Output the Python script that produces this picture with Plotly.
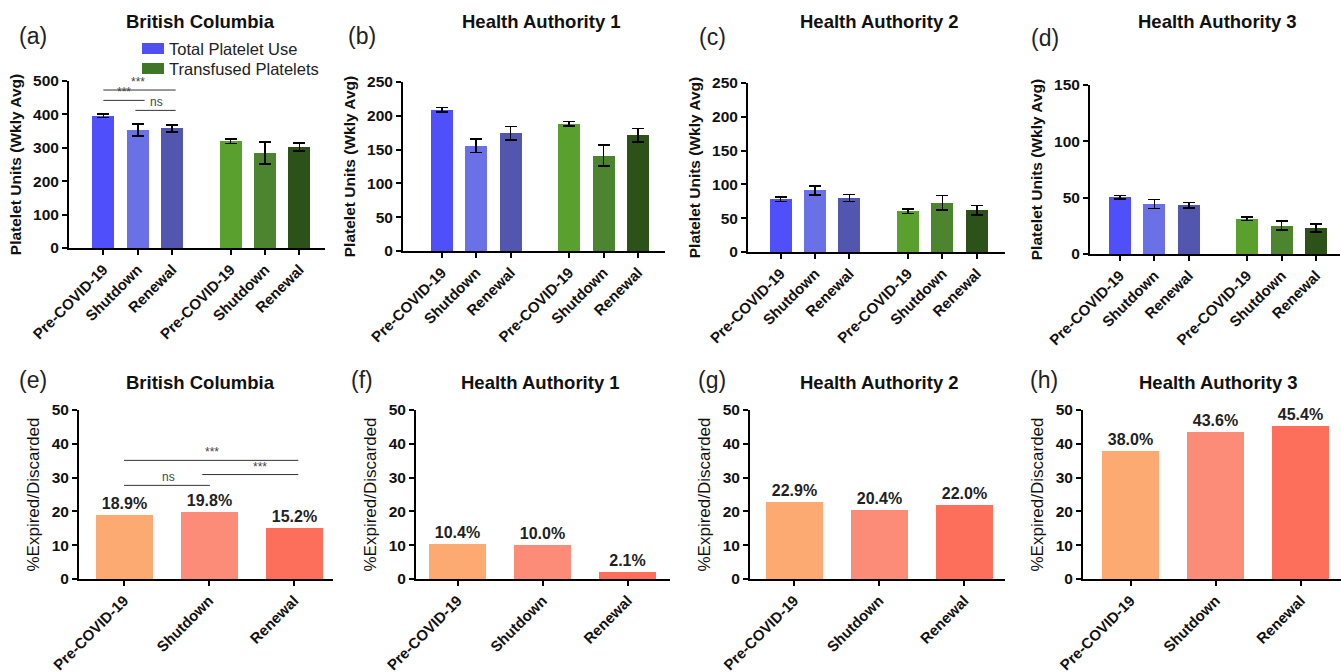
import plotly.graph_objects as go

W, H = 1341, 672
FONT = "Liberation Sans, Arial, sans-serif"

# ---------------- data ----------------
periods = ["Pre-COVID-19", "Shutdown", "Renewal"]
series_names = ["Total Platelet Use", "Transfused Platelets"]

top_titles = ["British Columbia", "Health Authority 1", "Health Authority 2", "Health Authority 3"]
top_letters = ["(a)", "(b)", "(c)", "(d)"]
total_use = [[396, 354, 358], [209, 156, 174], [78, 91, 80], [50.5, 44.5, 43.2]]
total_err = [[5, 18, 11], [3, 10, 10], [3, 7, 5], [1.5, 4, 2.4]]
transfused = [[320, 284, 303], [188, 141, 171], [60, 73, 62], [31.5, 25.3, 23]]
transfused_err = [[7, 33, 12], [3.5, 15.5, 10], [3.2, 10.6, 7], [1.6, 4, 3.7]]
top_ymax = [500, 250, 250, 150]
top_dtick = [100, 50, 50, 50]

bottom_titles = ["British Columbia", "Health Authority 1", "Health Authority 2", "Health Authority 3"]
bottom_letters = ["(e)", "(f)", "(g)", "(h)"]
expired_pct = [[18.9, 19.8, 15.2], [10.4, 10.0, 2.1], [22.9, 20.4, 22.0], [38.0, 43.6, 45.4]]

# significance brackets: (x0, x1, y, label, label_x)
sig_a = [(0, 2.1, 473, "***", 1.0), (0, 1.2, 442, "***", 0.6), (0.93, 2.1, 412, "ns", 1.55)]
sig_e = [(0, 2.05, 35.1, "***", 1.03), (0.92, 2.05, 30.9, "***", 1.6), (0, 1.01, 27.7, "ns", 0.52)]

# ---------------- styles ----------------
total_colors = ["#5050FB", "#6A70E6", "#5256AE"]
transf_colors = ["#5AA02F", "#4C8430", "#2C5119"]
legend_colors = ["#5050F2", "#3E7526"]
exp_colors = ["#FDA972", "#FC8C77", "#FD6E5B"]

GAP = 1.7  # group gap between the two series on top panels
# layout geometry in pixels
top_x_px = [(69, 325), (403, 665), (748, 1005), (1090, 1340)]
top_y_px = [(81, 248), (82, 251), (83, 252), (85, 254)]
top_xlo = [-1.0, -1.13, -0.95, -0.87]
bot_x_px = [(79, 333), (416, 670), (750, 1005), (1083, 1341)]
bot_y_px = (410, 579)
bot_xlo = [-0.53, -0.49, -0.52, -0.56]
top_title_px = [201, 541, 879, 1217]
bot_title_px = [201, 540, 879, 1218]
top_letter_px = [(33, 36), (362, 36), (712, 37), (1045, 38)]
bot_letter_px = [(33, 380), (362, 380), (712, 380), (1044, 380)]
legend_swatch_px = [(142, 43, 164, 54), (142, 63, 164, 74)]
legend_text_px = [(167, 48.5), (167, 68.5)]


def xd(p):
    return [p[0] / W, p[1] / W]


def yd(p):
    return [1 - p[1] / H, 1 - p[0] / H]


fig = go.Figure()
layout = dict(
    width=W, height=H, margin=dict(l=0, r=0, t=0, b=0, autoexpand=False),
    plot_bgcolor="white", paper_bgcolor="white",
    font=dict(family=FONT, color="#111"),
    bargap=0, showlegend=False,
)
annotations = []
shapes = []

n = len(periods)
xpos_total = list(range(n))
xpos_transf = [i + n - 1 + GAP for i in range(n)]
xpos_all = xpos_total + xpos_transf

axis_common = dict(showline=True, linecolor="black", linewidth=2, ticks="outside",
                   ticklen=5, tickwidth=2, tickcolor="black", showgrid=False,
                   zeroline=False, mirror=False, automargin=False)

XTICK = dict(size=15, weight="bold", color="#111")
YTICK = dict(size=15.5, weight="bold", color="#111")

for k in range(4):
    ax = k + 1
    xa = "x" if ax == 1 else f"x{ax}"
    ya = "y" if ax == 1 else f"y{ax}"
    fig.add_trace(go.Bar(x=xpos_total, y=total_use[k], width=0.64, name=series_names[0],
                         marker=dict(color=total_colors, line=dict(width=0)),
                         error_y=dict(type="data", array=total_err[k], color="black",
                                      thickness=1.6, width=6),
                         xaxis=xa, yaxis=ya))
    fig.add_trace(go.Bar(x=xpos_transf, y=transfused[k], width=0.64, name=series_names[1],
                         marker=dict(color=transf_colors, line=dict(width=0)),
                         error_y=dict(type="data", array=transfused_err[k], color="black",
                                      thickness=1.6, width=6),
                         xaxis=xa, yaxis=ya))
    layout[f"xaxis{ax}"] = dict(
        domain=xd(top_x_px[k]), range=[top_xlo[k], top_xlo[k] + (top_x_px[k][1] - top_x_px[k][0]) / 34.4],
        anchor=ya, tickmode="array", tickvals=xpos_all, ticktext=periods * 2,
        tickangle=-45, tickfont=XTICK, **axis_common)
    layout[f"yaxis{ax}"] = dict(
        domain=yd(top_y_px[k]), range=[0, top_ymax[k]], dtick=top_dtick[k], anchor=xa,
        tickfont=YTICK,
        title=dict(text="Platelet Units (Wkly Avg)", font=dict(size=15.5, weight="bold", color="#111"),
                   standoff=8),
        **axis_common)
    annotations.append(dict(text=top_titles[k], x=top_title_px[k] / W, y=1 - 22 / H, xref="paper", yref="paper",
                            showarrow=False, xanchor="center", yanchor="middle",
                            font=dict(size=18.5, weight="bold", color="#111")))
    annotations.append(dict(text=top_letters[k], x=top_letter_px[k][0] / W, y=1 - top_letter_px[k][1] / H,
                            xref="paper", yref="paper", showarrow=False, xanchor="center", yanchor="middle",
                            font=dict(size=23, color="#222")))

for k in range(4):
    ax = k + 5
    xa = f"x{ax}"
    ya = f"y{ax}"
    fig.add_trace(go.Bar(x=list(range(n)), y=expired_pct[k], width=0.67,
                         marker=dict(color=exp_colors, line=dict(width=0)),
                         texttemplate="%{y:.1f}%", textposition="outside", cliponaxis=False,
                         constraintext="none",
                         textfont=dict(size=16, weight="bold", color="#222"),
                         xaxis=xa, yaxis=ya))
    layout[f"xaxis{ax}"] = dict(
        domain=xd(bot_x_px[k]), range=[bot_xlo[k], bot_xlo[k] + (bot_x_px[k][1] - bot_x_px[k][0]) / 85.0],
        anchor=ya, tickmode="array", tickvals=list(range(n)), ticktext=periods,
        tickangle=-45, tickfont=XTICK, **axis_common)
    layout[f"yaxis{ax}"] = dict(
        domain=yd(bot_y_px), range=[0, 50], dtick=10, anchor=xa,
        tickfont=YTICK,
        title=dict(text="%Expired/Discarded", font=dict(size=17, color="#111"), standoff=8),
        **axis_common)
    annotations.append(dict(text=bottom_titles[k], x=bot_title_px[k] / W, y=1 - 382 / H, xref="paper", yref="paper",
                            showarrow=False, xanchor="center", yanchor="middle",
                            font=dict(size=18.5, weight="bold", color="#111")))
    annotations.append(dict(text=bottom_letters[k], x=bot_letter_px[k][0] / W, y=1 - bot_letter_px[k][1] / H,
                            xref="paper", yref="paper", showarrow=False, xanchor="center", yanchor="middle",
                            font=dict(size=23, color="#222")))

# significance brackets
for (sig, xr, yr) in [(sig_a, "x", "y"), (sig_e, "x5", "y5")]:
    for x0, x1, yv, lab, lx in sig:
        shapes.append(dict(type="line", xref=xr, yref=yr, x0=x0, x1=x1, y0=yv, y1=yv,
                           line=dict(color="#333", width=1)))
        annotations.append(dict(text=lab, x=lx, y=yv, xref=xr, yref=yr, showarrow=False,
                                xanchor="center", yanchor="bottom", yshift=-1,
                                font=dict(size=12, color="#444")))

# legend (panel a)
for (x0, y0, x1, y1), (tx, ty), name, col in zip(legend_swatch_px, legend_text_px, series_names, legend_colors):
    shapes.append(dict(type="rect", xref="paper", yref="paper", x0=x0 / W, x1=x1 / W,
                       y0=1 - y1 / H, y1=1 - y0 / H, fillcolor=col, line=dict(width=0)))
    annotations.append(dict(text=name, x=tx / W, y=1 - ty / H, xref="paper", yref="paper",
                            showarrow=False, xanchor="left", yanchor="middle",
                            font=dict(size=16.5, color="#222")))

layout["annotations"] = annotations
layout["shapes"] = shapes
fig.update_layout(**layout)
fig.write_html("out.html", config={"displayModeBar": False},
               post_script="document.body.style.margin='0px';document.body.style.overflow='hidden';")
